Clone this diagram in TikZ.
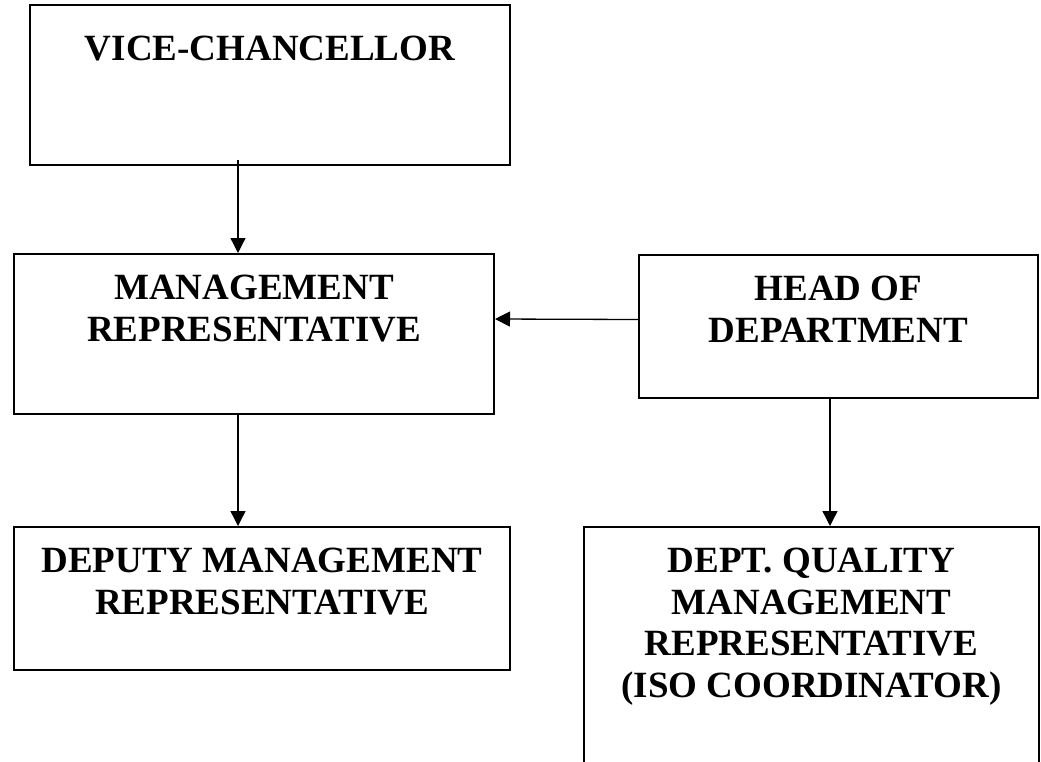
\documentclass[tikz,border=0pt]{standalone}
\usepackage{fontspec}
\setmainfont{Liberation Serif}
\usetikzlibrary{
    positioning,
    calc,
    arrows.meta}

\begin{document}
\begin{tikzpicture}[x=1pt, y=-1pt,
    post/.style={draw, line width=2pt, anchor=north west, inner sep=0pt},
    posttext/.style={anchor=base, align=center, inner sep=0pt, font=\bfseries\fontsize{37}{41.5}\selectfont},
    link/.style={line width=1.3pt, -{Triangle[width=15pt,length=15pt]}}]
% baseline of the last text line below the top edge of each box
\newcommand{\onelinegap}{56pt}
\newcommand{\twolinegap}{88pt}
\newcommand{\fourlinegap}{171pt}

\useasboundingbox (0,0) rectangle (1041,761);
\clip (0,0) rectangle (1041,761);

\node[post, minimum width=480pt, minimum height=160pt] (vc) at (29,4) {};
\node[post, minimum width=480pt, minimum height=160pt] (mr) at (13,253) {};
\node[post, minimum width=399pt, minimum height=143pt] (hod) at (638,254) {};
\node[post, minimum width=496pt, minimum height=143pt] (dmr) at (13,526) {};
\node[post, minimum width=455pt, minimum height=260pt] (dqmr) at (583,526) {};

\node[posttext] (vctext) at ([yshift=-\onelinegap]vc.north) {VICE-CHANCELLOR};
\node[posttext] (mrtext) at ([yshift=-\twolinegap]mr.north) {MANAGEMENT\\REPRESENTATIVE};
\node[posttext] (hodtext) at ([yshift=-\twolinegap]hod.north) {HEAD OF\\DEPARTMENT};
\node[posttext] (dmrtext) at ([yshift=-\twolinegap]dmr.north) {DEPUTY MANAGEMENT\\REPRESENTATIVE};
\node[posttext] (dqmrtext) at ([yshift=-\fourlinegap]dqmr.north) {DEPT. QUALITY\\MANAGEMENT\\REPRESENTATIVE\\(ISO COORDINATOR)};

\draw[link] ([xshift=-32pt,yshift=6pt]vc.south) -- ([xshift=-16pt]mr.north);
\draw[link] ([xshift=-16pt]mr.south) -- ([xshift=-24pt]dmr.north);
\draw[link] ([yshift=7pt]hod.west) -- ([yshift=15pt]mr.east);
\draw[link] ([xshift=-8.5pt]hod.south) -- ([xshift=18.5pt]dqmr.north);

\end{tikzpicture}
\end{document}
